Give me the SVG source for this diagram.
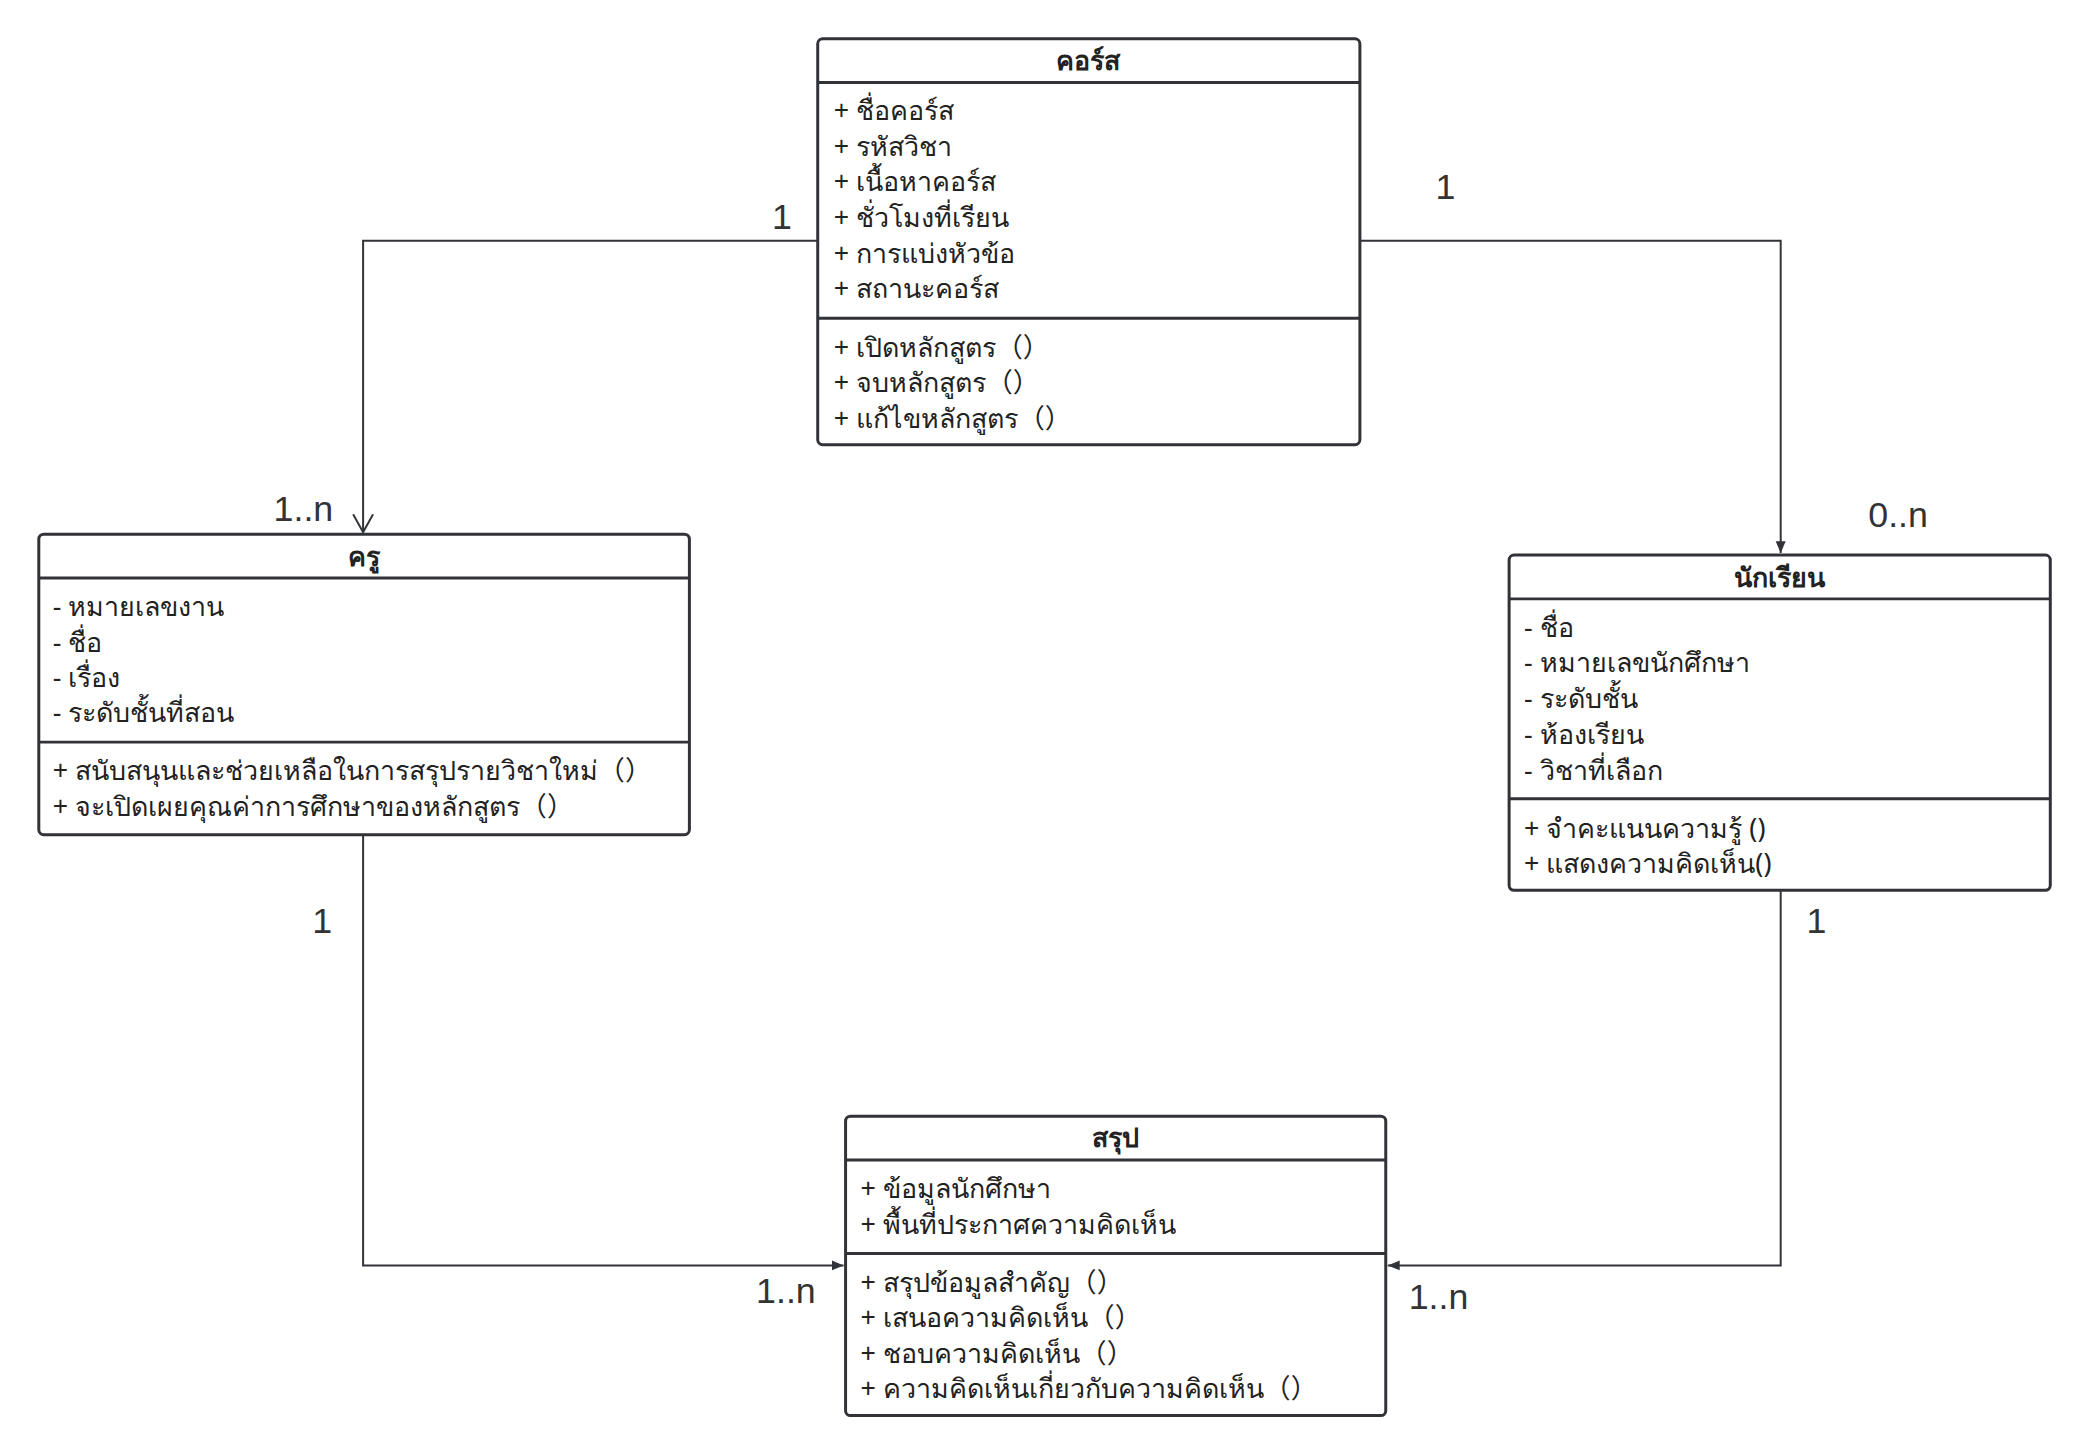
<svg xmlns="http://www.w3.org/2000/svg" width="2088" height="1454" viewBox="0 0 2088 1454">
<style>
.box{fill:#fff;stroke:#323338;stroke-width:3}
.ln{stroke:#323338;stroke-width:3}
.t{font-family:"Noto Sans","Noto Sans CJK SC","Liberation Sans",sans-serif;font-size:27px;fill:#222}
.h{font-family:"Noto Sans","Liberation Sans",sans-serif;font-size:27px;font-weight:bold;fill:#222;text-anchor:middle}
.m{font-family:"Liberation Sans",sans-serif;font-size:36px;fill:#333}
.c{fill:none;stroke:#323338;stroke-width:2}
</style>
<defs>
<marker id="fa" markerWidth="14" markerHeight="14" refX="12" refY="7" orient="auto" markerUnits="userSpaceOnUse"><path d="M0,2 L12,7 L0,12 Z" fill="#323338"/></marker>
<marker id="oa" markerWidth="20" markerHeight="24" refX="18" refY="12" orient="auto" markerUnits="userSpaceOnUse"><path d="M0,2 L18,12 L0,22" fill="none" stroke="#323338" stroke-width="2"/></marker>
</defs>
<rect width="2088" height="1454" fill="#fff"/>
<g transform="scale(0.9948)">
<g id="connectors">
<path class="c" d="M822,242 H365 V535" marker-end="url(#oa)"/>
<path class="c" d="M1367,242 H1790 V556" marker-end="url(#fa)"/>
<path class="c" d="M365,839 V1272 H848" marker-end="url(#fa)"/>
<path class="c" d="M1790,895 V1272 H1395" marker-end="url(#fa)"/>
<text class="m" x="776" y="230">1</text>
<text class="m" x="275" y="524">1..n</text>
<text class="m" x="1443" y="200">1</text>
<text class="m" x="1878" y="530">0..n</text>
<text class="m" x="314" y="938">1</text>
<text class="m" x="760" y="1310">1..n</text>
<text class="m" x="1816" y="938">1</text>
<text class="m" x="1416" y="1316">1..n</text>
</g>
<g id="course">
<rect class="box" x="822" y="39" width="545" height="408" rx="5"/>
<line class="ln" x1="822" y1="83" x2="1367" y2="83"/>
<line class="ln" x1="822" y1="320" x2="1367" y2="320"/>
<text class="h" x="1094" y="70">คอร์ส</text>
<text class="t" x="838" y="121">+ ชื่อคอร์ส</text>
<text class="t" x="838" y="157">+ รหัสวิชา</text>
<text class="t" x="838" y="192">+ เนื้อหาคอร์ส</text>
<text class="t" x="838" y="228">+ ชั่วโมงที่เรียน</text>
<text class="t" x="838" y="264">+ การแบ่งหัวข้อ</text>
<text class="t" x="838" y="300">+ สถานะคอร์ส</text>
<text class="t" x="838" y="359">+ เปิดหลักสูตร（）</text>
<text class="t" x="838" y="394">+ จบหลักสูตร（）</text>
<text class="t" x="838" y="430">+ แก้ไขหลักสูตร（）</text>
</g>
<g id="teacher">
<rect class="box" x="39" y="537" width="654" height="302" rx="5"/>
<line class="ln" x1="39" y1="581" x2="693" y2="581"/>
<line class="ln" x1="39" y1="746" x2="693" y2="746"/>
<text class="h" x="366" y="569">ครู</text>
<text class="t" x="53" y="619">- หมายเลขงาน</text>
<text class="t" x="53" y="655">- ชื่อ</text>
<text class="t" x="53" y="691">- เรื่อง</text>
<text class="t" x="53" y="726">- ระดับชั้นที่สอน</text>
<text class="t" x="53" y="784">+ สนับสนุนและช่วยเหลือในการสรุปรายวิชาใหม่（）</text>
<text class="t" x="53" y="820">+ จะเปิดเผยคุณค่าการศึกษาของหลักสูตร（）</text>
</g>
<g id="student">
<rect class="box" x="1517" y="558" width="544" height="337" rx="5"/>
<line class="ln" x1="1517" y1="602" x2="2061" y2="602"/>
<line class="ln" x1="1517" y1="803" x2="2061" y2="803"/>
<text class="h" x="1789" y="590">นักเรียน</text>
<text class="t" x="1532" y="640">- ชื่อ</text>
<text class="t" x="1532" y="676">- หมายเลขนักศึกษา</text>
<text class="t" x="1532" y="712">- ระดับชั้น</text>
<text class="t" x="1532" y="748">- ห้องเรียน</text>
<text class="t" x="1532" y="784">- วิชาที่เลือก</text>
<text class="t" x="1532" y="842">+ จำคะแนนความรู้ ()</text>
<text class="t" x="1532" y="878">+ แสดงความคิดเห็น()</text>
</g>
<g id="summary">
<rect class="box" x="850" y="1122" width="543" height="301" rx="5"/>
<line class="ln" x1="850" y1="1166" x2="1393" y2="1166"/>
<line class="ln" x1="850" y1="1260" x2="1393" y2="1260"/>
<text class="h" x="1121" y="1153">สรุป</text>
<text class="t" x="865" y="1204">+ ข้อมูลนักศึกษา</text>
<text class="t" x="865" y="1240">+ พื้นที่ประกาศความคิดเห็น</text>
<text class="t" x="865" y="1299">+ สรุปข้อมูลสำคัญ（）</text>
<text class="t" x="865" y="1334">+ เสนอความคิดเห็น（）</text>
<text class="t" x="865" y="1370">+ ชอบความคิดเห็น（）</text>
<text class="t" x="865" y="1405">+ ความคิดเห็นเกี่ยวกับความคิดเห็น（）</text>
</g>
</g>
</svg>
